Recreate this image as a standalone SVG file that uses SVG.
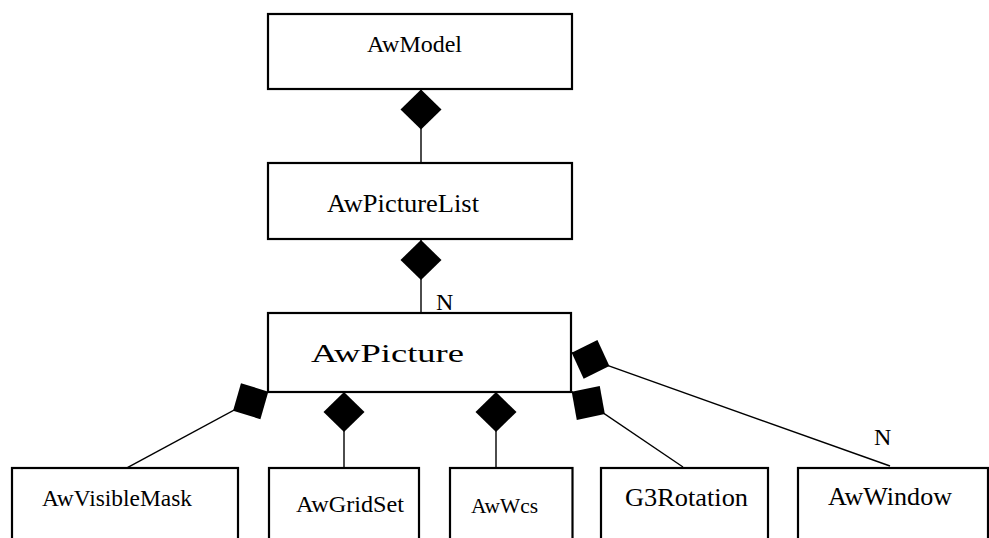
<svg xmlns="http://www.w3.org/2000/svg" width="989" height="538" viewBox="0 0 989 538">
  <style>
    .box { fill: #fff; stroke: #000; stroke-width: 2.2; }
    .lbl { font-family: "Liberation Serif", "Times New Roman", Times, serif; font-size: 24px; fill: #000; }
    .lg { font-size: 25px; }
    .sm { font-size: 20px; }
    .link { fill: none; stroke: #000; stroke-width: 1.4; marker-start: url(#comp); }
  </style>
  <defs>
    <!-- filled diamond: UML composition end at the owning class -->
    <marker id="comp" markerUnits="userSpaceOnUse" markerWidth="44" markerHeight="46"
            viewBox="-1 -22 44 44" refX="0" refY="0" orient="auto">
      <path d="M0,0 L20,-20.5 L40,0 L20,20.5 Z" fill="#000"/>
    </marker>
  </defs>

  <rect width="989" height="538" fill="#fff"/>

  <!-- connectors (drawn first so the boxes sit on top) -->
  <g id="connectors">
    <line class="link" x1="421" y1="89.5" x2="421" y2="163"/>
    <line class="link" x1="421" y1="240" x2="421" y2="313"/>
    <line class="link" x1="268.3" y1="391.7" x2="126" y2="468.3"/>
    <line class="link" x1="344" y1="392" x2="344" y2="468"/>
    <line class="link" x1="496" y1="392" x2="496" y2="468"/>
    <line class="link" x1="571.7" y1="391.7" x2="683" y2="467"/>
    <line class="link" x1="571.7" y1="352.7" x2="890" y2="466"/>
    <text class="lbl" x="436" y="310">N</text>
    <text class="lbl" x="874" y="445">N</text>
  </g>

  <g id="AwModel">
    <rect class="box" x="268" y="14" width="304" height="75"/>
    <text class="lbl" x="367" y="52" textLength="95" lengthAdjust="spacingAndGlyphs">AwModel</text>
  </g>

  <g id="AwPictureList">
    <rect class="box" x="268" y="163" width="304" height="76"/>
    <text class="lbl lg" x="327" y="212" textLength="152" lengthAdjust="spacingAndGlyphs">AwPictureList</text>
  </g>

  <g id="AwPicture">
    <rect class="box" x="268" y="313" width="303" height="79"/>
    <text class="lbl lg" x="311" y="362" textLength="153" lengthAdjust="spacingAndGlyphs">AwPicture</text>
  </g>

  <g id="AwVisibleMask">
    <rect class="box" x="12" y="468" width="226" height="80"/>
    <text class="lbl" x="42" y="506" textLength="150" lengthAdjust="spacingAndGlyphs">AwVisibleMask</text>
  </g>

  <g id="AwGridSet">
    <rect class="box" x="269" y="468" width="150" height="80"/>
    <text class="lbl" x="296" y="512" textLength="108" lengthAdjust="spacingAndGlyphs">AwGridSet</text>
  </g>

  <g id="AwWcs">
    <rect class="box" x="450" y="468" width="122.5" height="80"/>
    <text class="lbl sm" x="471" y="513" textLength="67" lengthAdjust="spacingAndGlyphs">AwWcs</text>
  </g>

  <g id="G3Rotation">
    <rect class="box" x="601" y="468" width="167" height="80"/>
    <text class="lbl lg" x="625" y="506" textLength="123" lengthAdjust="spacingAndGlyphs">G3Rotation</text>
  </g>

  <g id="AwWindow">
    <rect class="box" x="798" y="468" width="190" height="80"/>
    <text class="lbl lg" x="828" y="505" textLength="124" lengthAdjust="spacingAndGlyphs">AwWindow</text>
  </g>
</svg>
